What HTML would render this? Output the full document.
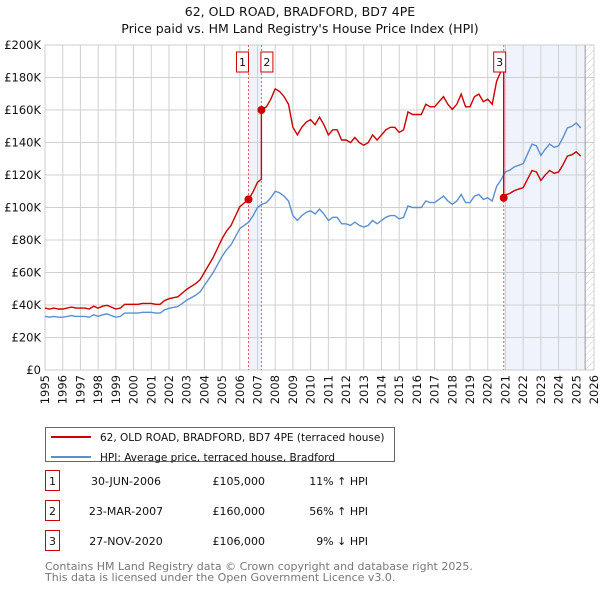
<!DOCTYPE html>
<html><head><meta charset="utf-8"><style>
body{margin:0;background:#fff;font-family:"Liberation Sans","DejaVu Sans",sans-serif;}
svg text{font-family:"DejaVu Sans","Liberation Sans",sans-serif;}
</style></head><body>
<svg id="c" width="600" height="590" xmlns="http://www.w3.org/2000/svg">
<defs><pattern id="hatch" width="5" height="5" patternUnits="userSpaceOnUse" patternTransform="rotate(45)"><line x1="0" y1="0" x2="0" y2="5" stroke="#ccc" stroke-width="1"/></pattern></defs>
<text x="300" y="16" text-anchor="middle" font-size="12.5" fill="#111">62, OLD ROAD, BRADFORD, BD7 4PE</text>
<text x="300" y="33" text-anchor="middle" font-size="12.5" fill="#111">Price paid vs. HM Land Registry's House Price Index (HPI)</text>
<g id="plot"></g>
<g>
<rect x="45.5" y="427.5" width="349" height="34" fill="#fff" stroke="#666"/>
<line x1="51" y1="437" x2="91" y2="437" stroke="#cc0000" stroke-width="2"/>
<text x="100" y="441" font-size="10.5" fill="#111">62, OLD ROAD, BRADFORD, BD7 4PE (terraced house)</text>
<line x1="51" y1="457" x2="91" y2="457" stroke="#5b8fd0" stroke-width="2"/>
<text x="100" y="461" font-size="10.5" fill="#111">HPI: Average price, terraced house, Bradford</text>
</g>
<g id="table" font-size="11" fill="#111"></g>
<text x="45" y="570" font-size="11" fill="#777">Contains HM Land Registry data © Crown copyright and database right 2025.</text>
<text x="45" y="581" font-size="11" fill="#777">This data is licensed under the Open Government Licence v3.0.</text>
</svg>
<script>
const startYear = 1995;
const hpiValues = [33,32.5,33,32.5, 32.5,33,33.5,33, 33,33,32.5,34, 33,34,34.5,33.5, 32.5,33,35,35,
 35,35,35.5,35.5, 35.5,35,35,37, 38,38.5,39,41, 43,44.5,46,48, 52,56,60,65, 70,74,77,82, 87,89,91,95,
 100,102,103,106, 110,109,107,104, 95,92,95,97, 98,96,99,96, 92,94,94,90, 90,89,91,89, 88,89,92,90,
 92,94,95,95, 93,94,101,100, 100,100,104,103, 103,105,107,104, 102,104,108,103, 103,107,108,105,
 106,104,113,117, 122,123,125,126, 127,133,139,138, 132,136,139,137, 138,143,149,150, 152,149];
const saleLabels = ["1","2","3"];
const saleDates = [2006.49, 2007.22, 2020.9];
const salePrices = [105, 160, 106];
const saleDateText = ["30-JUN-2006","23-MAR-2007","27-NOV-2020"];
const salePriceText = ["£105,000","£160,000","£106,000"];
const saleHpiText = ["11% \u2191 HPI","56% \u2191 HPI","9% \u2193 HPI"];
const yTicks = [0,20,40,60,80,100,120,140,160,180,200];
const xYears = [];for(let y=1995;y<=2026;y++)xYears.push(y);
const dataEnd = 2025.5;

const X0=45,X1=594,Y0=370,Y1=45;
const xs=t=>X0+(t-1995)/(2026-1995)*(X1-X0);
const ys=v=>Y0-v/200*(Y0-Y1);
const NS="http://www.w3.org/2000/svg";
const plot=document.getElementById('plot');
function mk(tag,attrs,parent){const e=document.createElementNS(NS,tag);for(const k in attrs)e.setAttribute(k,attrs[k]);(parent||plot).appendChild(e);return e;}
let sh=mk('rect',{x:xs(saleDates[0]),y:Y1,width:xs(saleDates[1])-xs(saleDates[0]),height:Y0-Y1,fill:'#eef3fc'});


sh=mk('rect',{x:xs(saleDates[2]),y:Y1,width:xs(dataEnd)-xs(saleDates[2]),height:Y0-Y1,fill:'#eef3fc'});


sh=mk('rect',{x:xs(dataEnd),y:Y1,width:X1-xs(dataEnd),height:Y0-Y1,fill:'url(#hatch)'});


yTicks.forEach(v=>{
 const l=mk('line',{x1:X0,x2:X1,y1:ys(v),y2:ys(v),stroke:'#d0d0d0','stroke-width':1});
 
 
 const t=mk('text',{x:X0-4,y:ys(v)+4,'text-anchor':'end','font-size':11.5,fill:'#111'});
 t.textContent=v===0?'£0':'£'+v+'K';
 
 
});
xYears.forEach(y=>{
 const l=mk('line',{x1:xs(y),x2:xs(y),y1:Y1,y2:Y0,stroke:'#d0d0d0','stroke-width':1});
 
 
 const t=mk('text',{transform:`translate(${xs(y)+4},${Y0+5}) rotate(-90)`,'text-anchor':'end','font-size':11.5,fill:'#111'});
 t.textContent=y;
 
 
});
let ln=mk('line',{x1:xs(dataEnd),x2:xs(dataEnd),y1:Y1,y2:Y0,stroke:'#999','stroke-width':1});


const fr=mk('rect',{x:X0,y:Y1,width:X1-X0,height:Y0-Y1,fill:'none',stroke:'#ccc'});


const tOf=i=>startYear+i*0.25;
function hpiAt(t){const f=(t-startYear)/0.25;const i=Math.min(Math.floor(f),hpiValues.length-2);const r=f-i;return hpiValues[i]*(1-r)+hpiValues[i+1]*r;}
const ratios=saleDates.map((d,k)=>salePrices[k]/hpiAt(d));
saleDates.forEach((d,k)=>{
 const l=mk('line',{x1:xs(d),x2:xs(d),y1:Y1,y2:Y0,stroke:'#e06060','stroke-width':1,'stroke-dasharray':'2,2'});
 
 
});
const hp=hpiValues.map((v,i)=>xs(tOf(i)).toFixed(1)+','+ys(v).toFixed(1)).join(' ');
const hl=mk('polyline',{points:hp,fill:'none',stroke:'#5b8fd0','stroke-width':1.4});


const pts=[];
const firstR=ratios[0];
let seg=-1;
hpiValues.forEach((v,i)=>{
 const t=tOf(i);
 while(seg+1<saleDates.length&&saleDates[seg+1]<=t){
  const d=saleDates[seg+1];
  const r=seg<0?firstR:ratios[seg];
  pts.push([d,hpiAt(d)*r]);pts.push([d,salePrices[seg+1]]);seg++;
 }
 const r=seg<0?firstR:ratios[seg];
 pts.push([t,v*r]);
});
const pl=mk('polyline',{points:pts.map(p=>xs(p[0]).toFixed(1)+','+ys(p[1]).toFixed(1)).join(' '),fill:'none',stroke:'#cc0000','stroke-width':1.4});


saleDates.forEach((d,k)=>{
 const c=mk('circle',{cx:xs(d),cy:ys(salePrices[k]),r:4,fill:'#cc0000'});
 
 
 let bx=xs(d)-6; if(k===0)bx=xs(d)-12; if(k===1)bx=xs(d)-0.5; if(k===2)bx=xs(d)-10;
 const g=mk('g',{});
 
 
 mk('rect',{x:bx,y:52,width:12,height:20,fill:'#fff',stroke:'#cc0000'},g);
 const t=mk('text',{x:bx+6,y:66,'text-anchor':'middle','font-size':11,fill:'#111'},g);
 t.textContent=saleLabels[k];
});
const tb=document.getElementById('table');
saleLabels.forEach((s,k)=>{
 const y=483+k*30;
 const g=mk('g',{},tb);
 
 
 mk('rect',{x:45.5,y:y-12.5,width:14,height:20,fill:'#fff',stroke:'#cc0000'},g);
 let t=mk('text',{x:52.5,y:y+2,'text-anchor':'middle','font-size':11},g);t.textContent=s;
 t=mk('text',{x:126,y:y+2,'text-anchor':'middle','font-size':11},g);t.textContent=saleDateText[k];
 t=mk('text',{x:265,y:y+2,'text-anchor':'end','font-size':11},g);t.textContent=salePriceText[k];
 t=mk('text',{x:368,y:y+2,'text-anchor':'end','font-size':11},g);t.textContent=saleHpiText[k];
});
</script>
</body></html>
